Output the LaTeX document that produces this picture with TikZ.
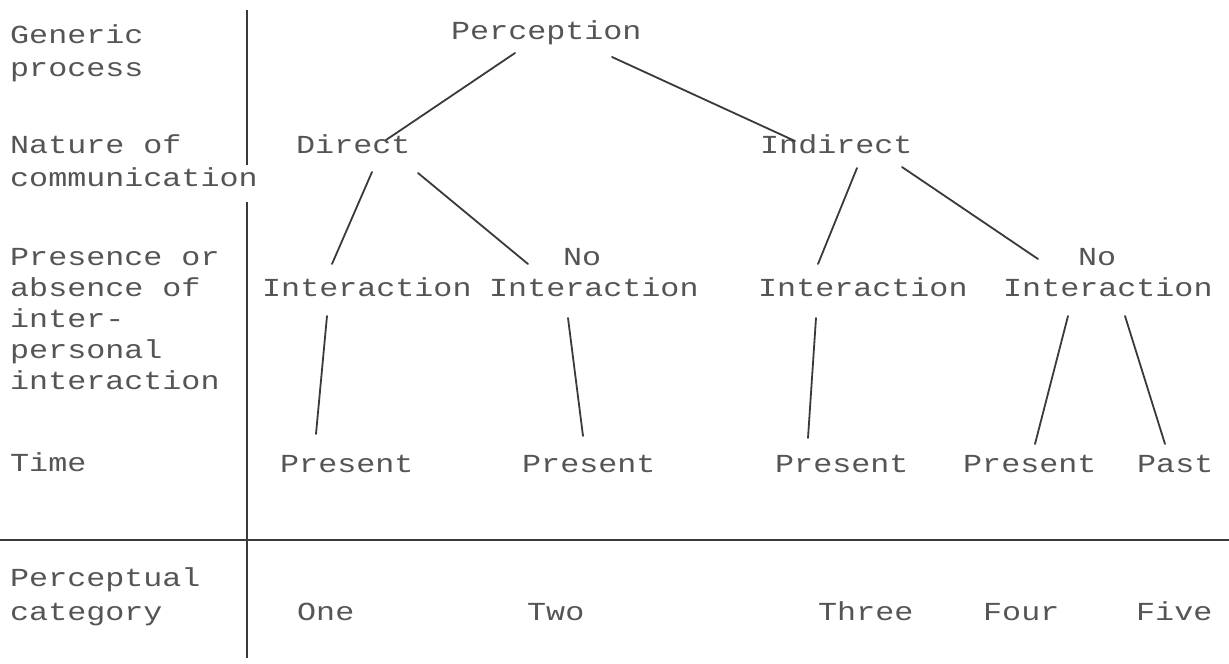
\documentclass[tikz,border=0pt]{standalone}
\usepackage{fontspec}
\setmainfont[FakeStretch=1.22]{Liberation Mono}
\usetikzlibrary{calc}
\definecolor{ink}{HTML}{555555}
\definecolor{pen}{HTML}{3A3A3A}
\begin{document}
\begin{tikzpicture}[x=1pt,y=-1pt,
  lbl/.style={anchor=base west,inner sep=0pt,text=ink,font=\fontsize{26}{30}\selectfont},
  link/.style={draw=pen,line width=1.8pt,line cap=round},
  rule/.style={draw=pen,line width=1.6pt}]
\useasboundingbox[fill=white] (0,0) rectangle (1229,664);
% left column labels
\node[lbl] (g1) at (10,43) {Generic};
\node[lbl] (g2) at (10,76) {process};
\node[lbl] (n1) at (10,153) {Nature of};
\node[lbl] (n2) at (10,186) {communication};
\node[lbl] (a1) at (10,265) {Presence or};
\node[lbl] (a2) at (10,296) {absence of};
\node[lbl] (a3) at (10,327) {inter-};
\node[lbl] (a4) at (10,358) {personal};
\node[lbl] (a5) at (10,389) {interaction};
\node[lbl] (t1) at (10,471) {Time};
\node[lbl] (c1) at (10,586) {Perceptual};
\node[lbl] (c2) at (10,620) {category};
% rules
\draw[rule] (247,10) -- (247,165);
\draw[rule] (247,202) -- (247,658);
\draw[rule,line width=2.2pt] (0,540) -- (1229,540);
% tree nodes
\node[lbl] (perc) at (451,39) {Perception};
\node[lbl] (dir) at (296,153) {Direct};
\node[lbl] (ind) at (760,153) {Indirect};
\node[lbl] (int1) at (262,296) {Interaction};
\node[lbl] (no1) at (563,265) {No};
\node[lbl] (int2) at (489,296) {Interaction};
\node[lbl] (int3) at (758,296) {Interaction};
\node[lbl] (no2) at (1078,265) {No};
\node[lbl] (int4) at (1003,296) {Interaction};
\node[lbl] (p1) at (280,472) {Present};
\node[lbl] (p2) at (522,472) {Present};
\node[lbl] (p3) at (775,472) {Present};
\node[lbl] (p4) at (963,472) {Present};
\node[lbl] (past) at (1137,472) {Past};
% categories
\node[lbl] (one) at (297,620) {One};
\node[lbl] (two) at (527,620) {Two};
\node[lbl] (three) at (818,620) {Three};
\node[lbl] (four) at (983,620) {Four};
\node[lbl] (five) at (1136,620) {Five};
% connectors
\draw[link] ($(perc.base west)+(64,14)$) -- ($(dir.base west)+(90,-13)$);
\draw[link] ($(perc.base west)+(161,18)$) -- ($(ind.base west)+(35,-12)$);
\draw[link] ($(dir.base west)+(76,19)$) -- ($(int1.base west)+(70,-32)$);
\draw[link] ($(dir.base west)+(122,20)$) -- ($(no1.base west)+(-35,-1)$);
\draw[link] ($(ind.base west)+(97,15)$) -- ($(int3.base west)+(60,-32)$);
\draw[link] ($(ind.base west)+(142,14)$) -- ($(no2.base west)+(-40,-6)$);
\draw[link] ($(int1.base west)+(65,20)$) -- ($(p1.base west)+(36,-38)$);
\draw[link] ($(int2.base west)+(79,22)$) -- ($(p2.base west)+(61,-36)$);
\draw[link] ($(int3.base west)+(58,22)$) -- ($(p3.base west)+(33,-34)$);
\draw[link] ($(int4.base west)+(65,20)$) -- ($(p4.base west)+(72,-28)$);
\draw[link] ($(int4.base west)+(122,20)$) -- ($(past.base west)+(28,-28)$);
\end{tikzpicture}
\end{document}
